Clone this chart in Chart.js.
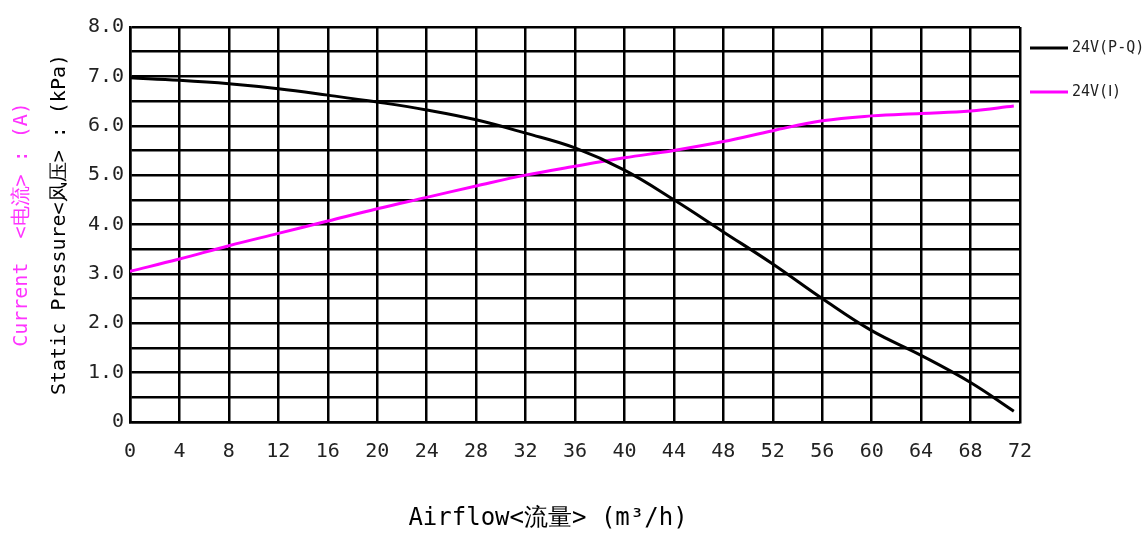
<!DOCTYPE html>
<html><head><meta charset="utf-8">
<script src="https://cdn.jsdelivr.net/npm/chart.js@4"></script>
<style>body{margin:0;background:#fff}#wrap{width:1148px;height:543px}</style>
</head><body><div id="wrap"><canvas id="c"></canvas></div>
<script>
const airflow = [0,4,8,12,16,20,24,28,32,36,40,44,48,52,56,60,64,68,71.5];
const pressure = [6.97,6.92,6.85,6.75,6.62,6.48,6.32,6.12,5.85,5.55,5.1,4.5,3.85,3.2,2.5,1.85,1.35,0.8,0.22];
const current = [3.05,3.3,3.57,3.82,4.07,4.32,4.55,4.78,5.0,5.18,5.35,5.5,5.68,5.9,6.1,6.2,6.25,6.3,6.4];
const seriesNames = ['24V(P-Q)', '24V(Ⅰ)'];
const font = "'DejaVu Sans Mono', monospace";

const extras = {
  id: 'extras',
  afterDraw(chart) {
    const ctx = chart.ctx, a = chart.chartArea;
    ctx.save();
    // legend
    const cols = ['#000', '#ff00ff'];
    [48, 92].forEach((y, i) => {
      ctx.strokeStyle = cols[i]; ctx.lineWidth = 3;
      ctx.beginPath(); ctx.moveTo(a.right + 10, y); ctx.lineTo(a.right + 48, y); ctx.stroke();
      ctx.fillStyle = '#222'; ctx.font = '15px ' + font;
      ctx.textBaseline = 'middle';
      ctx.fillText(seriesNames[i], a.right + 52, y);
    });
    // y titles
    ctx.font = '20px ' + font;
    ctx.textAlign = 'center';
    ctx.translate(22, (a.top + a.bottom) / 2);
    ctx.rotate(-Math.PI / 2);
    ctx.fillStyle = '#ff33ff';
    ctx.fillText('Current  <电流> : (A)', 0, 0);
    ctx.fillStyle = '#000';
    ctx.fillText('Static Pressure<风压> : (kPa)', 0, 38);
    ctx.restore();
    // x title
    ctx.save();
    ctx.font = '24px ' + font;
    ctx.fillStyle = '#000';
    ctx.textAlign = 'center';
    ctx.fillText('Airflow<流量> (m³/h)', 548, 525);
    ctx.restore();
  }
};

new Chart(document.getElementById('c'), {
  type: 'line',
  data: {
    datasets: [
      { label: seriesNames[0], data: airflow.map((x, i) => ({ x, y: pressure[i] })),
        borderColor: '#000', borderWidth: 3, pointRadius: 0, tension: 0.4 },
      { label: seriesNames[1], data: airflow.map((x, i) => ({ x, y: current[i] })),
        borderColor: '#ff00ff', borderWidth: 3, pointRadius: 0, tension: 0.4 }
    ]
  },
  options: {
    responsive: true, maintainAspectRatio: false, animation: false,
    layout: { padding: { top: 27, right: 128, left: 0, bottom: 0 } },
    plugins: { legend: { display: false }, tooltip: { enabled: false } },
    scales: {
      x: {
        type: 'linear', min: 0, max: 72,
        afterFit: s => { s.height = 121; },
        afterBuildTicks: s => { s.ticks = []; for (let v = 0; v <= 72; v += 4) s.ticks.push({ value: v }); },
        grid: { color: '#000', lineWidth: 2.5, drawTicks: false },
        border: { color: '#000', width: 2.5 },
        ticks: { autoSkip: false, maxRotation: 0, padding: 18, color: '#222',
          font: { family: font, size: 20 },
          callback: v => String(v) }
      },
      y: {
        min: 0, max: 8,
        afterFit: s => { s.width = 130; },
        afterBuildTicks: s => { s.ticks = []; for (let v = 0; v <= 8; v += 0.5) s.ticks.push({ value: v }); },
        grid: { color: '#000', lineWidth: 2.5, drawTicks: false },
        border: { color: '#000', width: 2.5 },
        ticks: { autoSkip: false, padding: 6, color: '#222',
          font: { family: font, size: 20 },
          callback: v => v === 0 ? '0' : (Number.isInteger(v) ? v.toFixed(1) : '') }
      }
    }
  },
  plugins: [extras]
});
</script></body></html>
